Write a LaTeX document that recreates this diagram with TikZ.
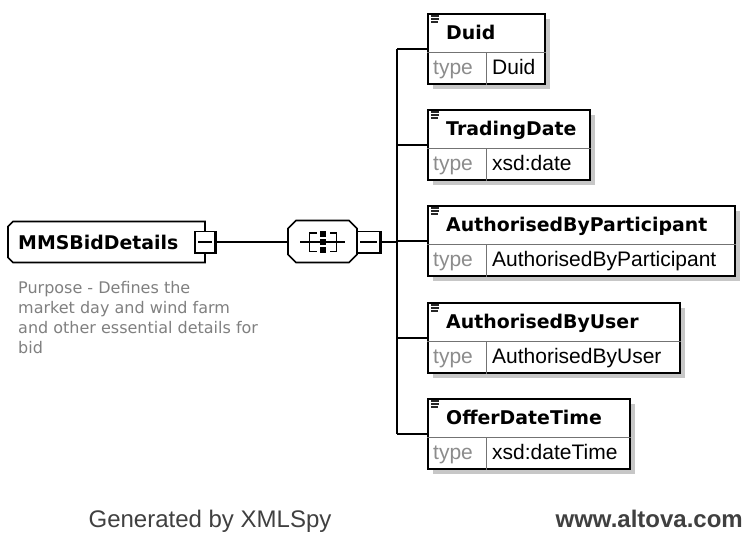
\documentclass[tikz,border=0pt]{standalone}
\usepackage{fontspec}
\usetikzlibrary{shadows}
\newfontfamily\dvs{DejaVu Sans}
\newfontfamily\lib{Liberation Sans}
\colorlet{shadowcol}{black!22}
\begin{document}
\begin{tikzpicture}[x=1pt,y=-1pt,
  shad/.style={drop shadow={shadow xshift=5pt,shadow yshift=-5pt,fill=shadowcol,opacity=1}},
  elbox/.style={draw=black,line width=1.6pt,fill=white,minimum height=70pt,inner sep=0pt,anchor=north west,shad},
  divline/.style={draw=black!55,line width=1pt},
  iconline/.style={draw=black!85,line width=1.3pt},
  nametext/.style={font=\fontsize{18.9}{22}\dvs\bfseries,inner sep=0pt,anchor=base west},
  typelabel/.style={font=\fontsize{21}{24}\lib,text=black!45,inner sep=0pt,anchor=base west},
  typeval/.style={font=\fontsize{21}{24}\lib,text=black,inner sep=0pt,anchor=base west},
  conn/.style={draw=black,line width=1.8pt},
  frame/.style={inner sep=0pt,outer sep=0pt},
  outline/.style={draw=black,line width=1.6pt,fill=white,line join=miter},
  minusbox/.style={draw=black,line width=1.2pt,fill=white,inner sep=0pt,minimum height=21pt},
  desc/.style={font=\fontsize{16}{20}\dvs,text=black!50,inner sep=0pt,align=left,anchor=north west},
  footer/.style={font=\fontsize{24}{28}\lib,text=black!75,inner sep=0pt},
]
\fill[white] (0,0) rectangle (747,536);
\useasboundingbox (0,0) rectangle (747,536);

\newcommand\elembox[5]{%
  \node[elbox,minimum width=#4] (#1) at (427,#3) {};
  \draw[divline] ([yshift=-39pt]#1.north west) -- ([yshift=-39pt]#1.north east);
  \draw[divline] ([xshift=59pt,yshift=-39pt]#1.north west) -- ([xshift=59pt]#1.south west);
  \draw[iconline] ([xshift=4pt,yshift=-3pt]#1.north west) -- ([xshift=12pt,yshift=-3pt]#1.north west);
  \draw[iconline] ([xshift=4pt,yshift=-6pt]#1.north west) -- ([xshift=12pt,yshift=-6pt]#1.north west);
  \draw[iconline] ([xshift=4pt,yshift=-9pt]#1.north west) -- ([xshift=11pt,yshift=-9pt]#1.north west);
  \node[nametext] (#1-name) at ([xshift=19pt,yshift=-26pt]#1.north west) {#2};
  \node[typelabel] (#1-tl) at ([xshift=6pt,yshift=-61pt]#1.north west) {type};
  \node[typeval] (#1-tv) at ([xshift=65pt,yshift=-61pt]#1.north west) {#5};
}

% root element (left corners chamfered)
\node[frame,minimum width=197pt,minimum height=41pt] (root) at (106.5,242) {};
\begin{scope}[shift={(5,5)}]
  \fill[shadowcol] ([xshift=5pt]root.north west) -- (root.north east) -- (root.south east)
     -- ([xshift=5pt]root.south west) -- ([yshift=5pt]root.south west)
     -- ([yshift=-5pt]root.north west) -- cycle;
\end{scope}
\path[outline] ([xshift=5pt]root.north west) -- (root.north east) -- (root.south east)
     -- ([xshift=5pt]root.south west) -- ([yshift=5pt]root.south west)
     -- ([yshift=-5pt]root.north west) -- cycle;
\node[nametext] (rootname) at (18,249) {MMSBidDetails};
\node[minusbox,minimum width=20pt] (rm) at (205,242) {};
\draw[line width=2pt] (rm.north east) -- (rm.south east) -- (rm.south west);
\draw[line width=1.2pt] ([xshift=4pt]rm.west) -- ([xshift=-4pt]rm.east);

\node[desc] (rootdesc) at (18,281) {Purpose - Defines the\\market day and wind farm\\and other essential details for\\bid};

% sequence compositor (octagon)
\node[frame,minimum width=69pt,minimum height=42pt] (seq) at (322.5,241.5) {};
\begin{scope}[shift={(5,5)}]
  \fill[shadowcol] ([xshift=8pt]seq.north west) -- ([xshift=-8pt]seq.north east)
     -- ([yshift=-8pt]seq.north east) -- ([yshift=8pt]seq.south east)
     -- ([xshift=-8pt]seq.south east) -- ([xshift=8pt]seq.south west)
     -- ([yshift=8pt]seq.south west) -- ([yshift=-8pt]seq.north west) -- cycle;
\end{scope}
\path[outline] ([xshift=8pt]seq.north west) -- ([xshift=-8pt]seq.north east)
     -- ([yshift=-8pt]seq.north east) -- ([yshift=8pt]seq.south east)
     -- ([xshift=-8pt]seq.south east) -- ([xshift=8pt]seq.south west)
     -- ([yshift=8pt]seq.south west) -- ([yshift=-8pt]seq.north west) -- cycle;
\draw[line width=1.3pt] (300,242) -- (345,242);
\draw[line width=1.3pt] (316.5,233) -- (309.5,233) -- (309.5,251.5) -- (316.5,251.5);
\draw[line width=1.3pt] (330,233) -- (336.7,233) -- (336.7,251.5) -- (330,251.5);
\fill (320,231) rectangle (325.5,236.5);
\fill (320,239.3) rectangle (325.5,244.8);
\fill (320,247.3) rectangle (325.5,252.8);
\node[minusbox,minimum width=23pt] (sm) at (368.5,242) {};
\draw[line width=2pt] (sm.north east) -- (sm.south east) -- (sm.south west);
\draw[line width=1.2pt] ([xshift=4pt]sm.west) -- ([xshift=-4pt]sm.east);

% child elements
\elembox{duid}{Duid}{13}{117}{Duid}
\elembox{tdate}{TradingDate}{109}{162}{xsd:date}
\elembox{abp}{AuthorisedByParticipant}{205}{307}{AuthorisedByParticipant}
\elembox{abu}{AuthorisedByUser}{302}{252}{AuthorisedByUser}
\elembox{odt}{OfferDateTime}{398}{202}{xsd:dateTime}

% connectors
\coordinate (bus) at (397,242);
\draw[conn] (rm.east) -- (rm.east -| seq.west);
\draw[conn] (sm.east) -- (bus);
\draw[conn] (bus |- duid.west) -- (bus |- odt.west);
\draw[conn] (bus |- duid.west) -- (duid.west);
\draw[conn] (bus |- tdate.west) -- (tdate.west);
\draw[conn] (bus |- abp.west) -- (abp.west);
\draw[conn] (bus |- abu.west) -- (abu.west);
\draw[conn] (bus |- odt.west) -- (odt.west);

% footer
\node[footer,anchor=base] (gen) at (210,527) {Generated by XMLSpy};
\node[footer,font=\fontsize{24}{28}\lib\bfseries,anchor=base east] (url) at (743,527) {www.altova.com};
\end{tikzpicture}
\end{document}
